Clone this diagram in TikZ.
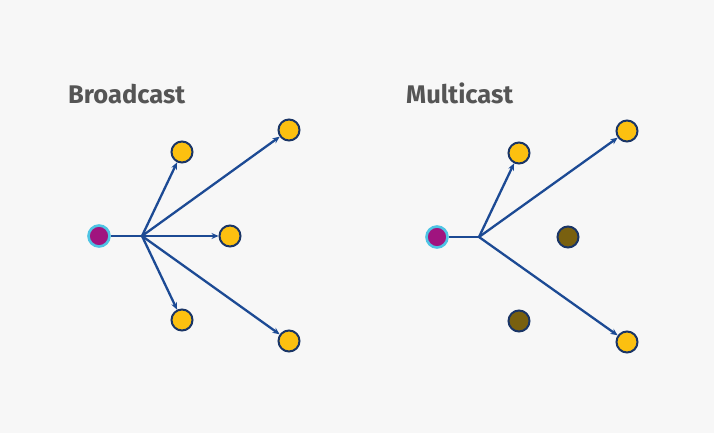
\documentclass[tikz,border=0pt]{standalone}
\usepackage{fontspec}
\setmainfont{Fira Sans}
\usetikzlibrary{arrows.meta}
\definecolor{bg}{HTML}{F7F7F7}
\definecolor{gold}{HTML}{FCC010}
\definecolor{navy}{HTML}{1A3566}
\definecolor{arrowblue}{HTML}{1C4A94}
\definecolor{magent}{HTML}{A0147F}
\definecolor{cyanring}{HTML}{4EC4E4}
\definecolor{brownish}{HTML}{79600F}
\definecolor{titlegray}{HTML}{555555}
\tikzset{
  recv/.style={circle, fill=gold, draw=navy, line width=2pt, minimum size=21pt, inner sep=0pt},
  idle/.style={circle, fill=brownish, draw=navy, line width=2pt, minimum size=21pt, inner sep=0pt},
  src/.style={circle, fill=magent, draw=cyanring, line width=2.6pt, minimum size=21pt, inner sep=0pt},
  link/.style={draw=arrowblue, line width=2.3pt},
  arr/.style={link, -{Stealth[length=7pt,width=6pt]}},
  title/.style={font=\fontsize{25.5}{28}\selectfont\bfseries, text=titlegray, anchor=base west, inner sep=0pt}
}
\begin{document}
\begin{tikzpicture}[x=1pt,y=-1pt]
\fill[bg] (0,0) rectangle (714,433);
\useasboundingbox (0,0) rectangle (714,433);
% Broadcast
\node[title] (t1) at (68,103) {Broadcast};
\node[src] (s1) at (99,236) {};
\coordinate (h1) at (142,236);
\node[recv] (a1) at (182,152) {};
\node[recv] (b1) at (289,130) {};
\node[recv] (c1) at (230,236) {};
\node[recv] (d1) at (182,320) {};
\node[recv] (e1) at (289,341) {};
\draw[link] (s1) -- (h1);
\draw[arr] (h1) -- (a1);
\draw[arr] (h1) -- (b1);
\draw[arr] (h1) -- (c1);
\draw[arr] (h1) -- (d1);
\draw[arr] (h1) -- (e1);
% Multicast
\node[title] (t2) at (406,103) {Multicast};
\node[src] (s2) at (437,237) {};
\coordinate (h2) at (479,237);
\node[recv] (a2) at (519,153) {};
\node[recv] (b2) at (627,131) {};
\node[idle] (c2) at (568,237) {};
\node[idle] (d2) at (519,321) {};
\node[recv] (e2) at (627,342) {};
\draw[link] (s2) -- (h2);
\draw[arr] (h2) -- (a2);
\draw[arr] (h2) -- (b2);
\draw[arr] (h2) -- (e2);
\end{tikzpicture}
\end{document}
